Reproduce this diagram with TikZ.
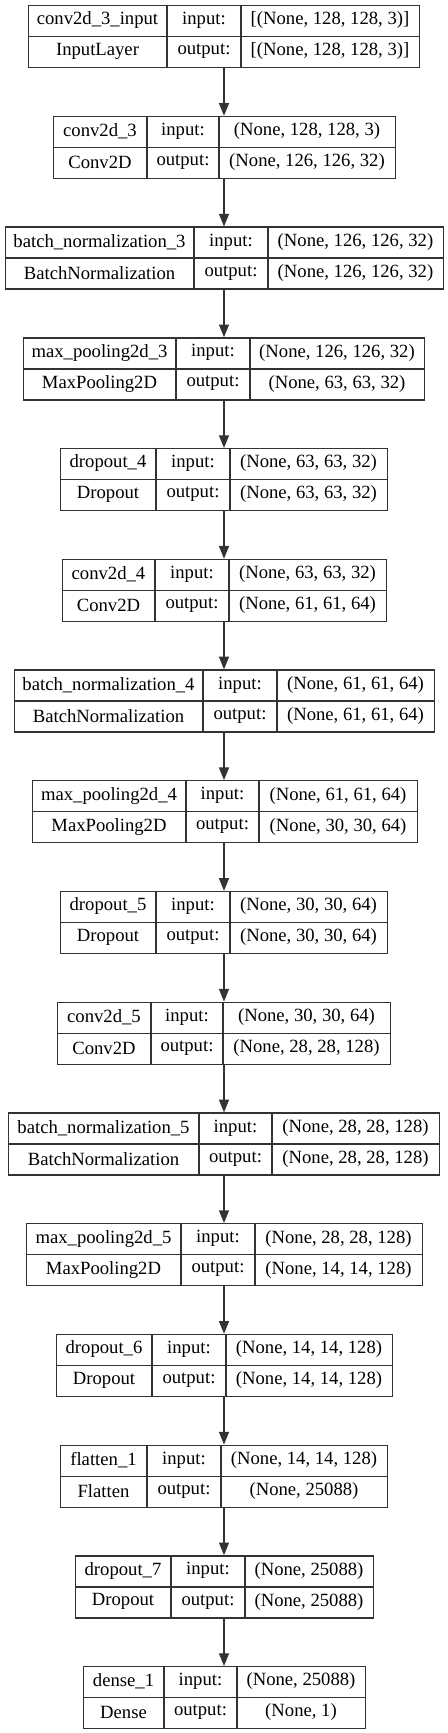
\documentclass[tikz,border=0pt]{standalone}
\usepackage{fontspec}
\setmainfont{Liberation Serif}
\usetikzlibrary{arrows.meta, calc}
\definecolor{edgegray}{HTML}{333333}

\begin{document}
\begin{tikzpicture}[
  x=0.75pt, y=-0.75pt,
  layerbox/.style={rectangle, draw=edgegray, line width=1pt, inner sep=0pt,
                   minimum height=46.5pt, anchor=north west},
  divider/.style={draw=edgegray, line width=1pt},
  celltext/.style={inner sep=0pt, anchor=center, text=black,
                   font=\fontsize{14}{16}\selectfont},
  arrow/.style={-{Triangle[length=9.5pt, width=7.5pt]}, line width=1pt, color=edgegray}
]
  \useasboundingbox (0,0) rectangle (448,1733);
  \coordinate (axis) at (224,0);

  % layers: index / left x / three column widths / name / class / input / output
  \foreach \i/\xa/\wa/\wb/\wc/\lname/\lclass/\inp/\outp in {
    1/28/139/74/178/conv2d\_3\_input/InputLayer/{[(None, 128, 128, 3)]}/{[(None, 128, 128, 3)]},
    2/53/94/72/176/conv2d\_3/Conv2D/{(None, 128, 128, 3)}/{(None, 126, 126, 32)},
    3/5/189/74/175/batch\_normalization\_3/BatchNormalization/{(None, 126, 126, 32)}/{(None, 126, 126, 32)},
    4/23/153/74/174/max\_pooling2d\_3/MaxPooling2D/{(None, 126, 126, 32)}/{(None, 63, 63, 32)},
    5/60/96/74/157/dropout\_4/Dropout/{(None, 63, 63, 32)}/{(None, 63, 63, 32)},
    6/62/93/74/157/conv2d\_4/Conv2D/{(None, 63, 63, 32)}/{(None, 61, 61, 64)},
    7/14/189/74/157/batch\_normalization\_4/BatchNormalization/{(None, 61, 61, 64)}/{(None, 61, 61, 64)},
    8/32/154/73/158/max\_pooling2d\_4/MaxPooling2D/{(None, 61, 61, 64)}/{(None, 30, 30, 64)},
    9/60/96/74/157/dropout\_5/Dropout/{(None, 30, 30, 64)}/{(None, 30, 30, 64)},
    10/57/94/72/167/conv2d\_5/Conv2D/{(None, 30, 30, 64)}/{(None, 28, 28, 128)},
    11/8/191/73/167/batch\_normalization\_5/BatchNormalization/{(None, 28, 28, 128)}/{(None, 28, 28, 128)},
    12/26/155/74/167/max\_pooling2d\_5/MaxPooling2D/{(None, 28, 28, 128)}/{(None, 14, 14, 128)},
    13/56/96/74/166/dropout\_6/Dropout/{(None, 14, 14, 128)}/{(None, 14, 14, 128)},
    14/60/87/74/166/flatten\_1/Flatten/{(None, 14, 14, 128)}/{(None, 25088)},
    15/75/96/74/128/dropout\_7/Dropout/{(None, 25088)}/{(None, 25088)},
    16/83/81/73/128/dense\_1/Dense/{(None, 25088)}/{(None, 1)}} {
    \pgfmathsetmacro{\ytop}{5+110.73*(\i-1)}
    \pgfmathsetmacro{\boxw}{(\wa+\wb+\wc)*0.75}
    \pgfmathsetmacro{\xb}{\xa+\wa}
    \pgfmathsetmacro{\xc}{\xb+\wb}
    \node[layerbox, minimum width=\boxw pt] (L\i) at (\xa,\ytop) {};
    \draw[divider] (L\i.west) -- (L\i.east);
    \draw[divider] (\xb,\ytop) -- ++(0,62);
    \draw[divider] (\xc,\ytop) -- ++(0,62);
    \node[celltext] (L\i-name) at ({\xa+\wa/2},{\ytop+15.5}) {\lname};
    \node[celltext] (L\i-class) at ({\xa+\wa/2},{\ytop+46.5}) {\lclass};
    \node[celltext] (L\i-inlabel) at ({\xb+\wb/2},{\ytop+15.5}) {input:};
    \node[celltext] (L\i-outlabel) at ({\xb+\wb/2},{\ytop+46.5}) {output:};
    \node[celltext] (L\i-in) at ({\xc+\wc/2},{\ytop+15.5}) {\inp};
    \node[celltext] (L\i-out) at ({\xc+\wc/2},{\ytop+46.5}) {\outp};
  }

  % connectors
  \foreach \i [evaluate=\i as \j using int(\i+1)] in {1,...,15}
    \draw[arrow] (L\i.south -| axis) -- (L\j.north -| axis);
\end{tikzpicture}
\end{document}
